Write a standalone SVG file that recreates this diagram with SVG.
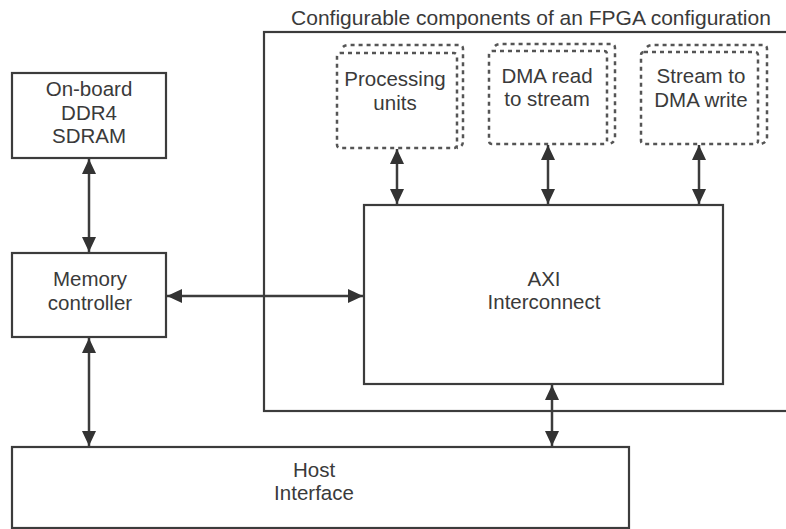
<svg xmlns="http://www.w3.org/2000/svg" width="786" height="529" viewBox="0 0 786 529">
<style>
.box{fill:none;stroke:#3c3c3c;stroke-width:2.2}
.dot{fill:none;stroke:#555;stroke-width:2.5;stroke-dasharray:4 4}
.t{font-family:"Liberation Sans",Arial,sans-serif;font-size:20.5px;fill:#3a3a3a;text-anchor:middle}
.c{stroke:#3c3c3c;stroke-width:2.5;fill:none;marker-start:url(#ah);marker-end:url(#ah)}
</style>
<defs>
<marker id="ah" viewBox="0 0 15 14" refX="15" refY="7" markerWidth="15" markerHeight="14" markerUnits="userSpaceOnUse" orient="auto-start-reverse">
<path d="M0,0 L15,7 L0,14 z" fill="#333"/>
</marker>
</defs>
<rect width="786" height="529" fill="#fff"/>
<g id="fpga-config">
<rect class="box" x="264" y="32" width="540" height="379"/>
<text class="t" x="531" y="25" style="font-size:21px">Configurable components of an FPGA configuration</text>
</g>
<g id="ddr4">
<rect class="box" x="12" y="73" width="154" height="85"/>
<text class="t" x="89" y="96">On-board</text>
<text class="t" x="89" y="120">DDR4</text>
<text class="t" x="89" y="143">SDRAM</text>
</g>
<g id="memctrl">
<rect class="box" x="12" y="253" width="154" height="84"/>
<text class="t" x="90" y="286">Memory</text>
<text class="t" x="90" y="310">controller</text>
</g>
<g id="host">
<rect class="box" x="12" y="447" width="617" height="81"/>
<text class="t" x="314" y="477">Host</text>
<text class="t" x="314" y="500">Interface</text>
</g>
<g id="axi">
<rect class="box" x="364" y="205" width="359" height="179"/>
<text class="t" x="544" y="286">AXI</text>
<text class="t" x="544" y="309">Interconnect</text>
</g>
<g id="processing">
<rect class="dot" x="337" y="53" width="120" height="95" rx="3"/>
<path class="dot" d="M343,47 Q345,45 350,45 H459 Q463,45 463,49 V141 Q463,147 457,148"/>
<text class="t" x="395" y="86">Processing</text>
<text class="t" x="395" y="110">units</text>
</g>
<g id="dma-read">
<rect class="dot" x="489" y="51" width="118" height="93" rx="3"/>
<path class="dot" d="M495,46 Q497,44 502,44 H611 Q615,44 615,48 V137 Q615,143 608,144"/>
<text class="t" x="547" y="83">DMA read</text>
<text class="t" x="547" y="106">to stream</text>
</g>
<g id="stream-write">
<rect class="dot" x="641" y="52" width="117" height="92" rx="3"/>
<path class="dot" d="M647,47 Q649,45 654,45 H763 Q767,45 767,49 V137 Q767,143 760,144"/>
<text class="t" x="701" y="83">Stream to</text>
<text class="t" x="701" y="107">DMA write</text>
</g>
<g id="connectors">
<line class="c" x1="89" y1="159" x2="89" y2="252"/>
<line class="c" x1="89" y1="338" x2="89" y2="446"/>
<line class="c" x1="167" y1="296" x2="363" y2="296"/>
<line class="c" x1="397" y1="149" x2="397" y2="204"/>
<line class="c" x1="548" y1="145" x2="548" y2="204"/>
<line class="c" x1="699" y1="145" x2="699" y2="204"/>
<line class="c" x1="552" y1="385" x2="552" y2="446"/>
</g>
</svg>
